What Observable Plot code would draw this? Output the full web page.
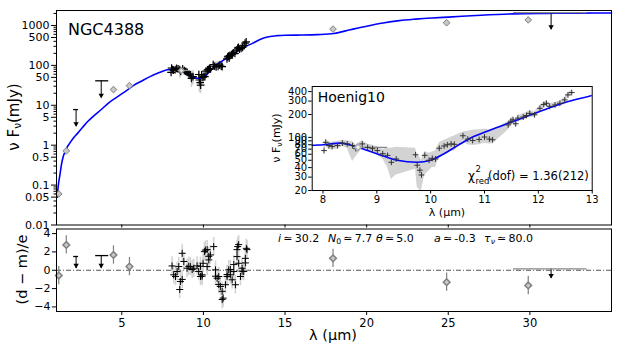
<!DOCTYPE html>
<html><head><meta charset="utf-8">
<script src="https://cdn.jsdelivr.net/npm/d3@7"></script>
<script src="https://cdn.jsdelivr.net/npm/@observablehq/plot@0.6"></script>
<style>
body{margin:0;background:#fff;}
#wrap{position:relative;width:623px;height:346px;font-family:"DejaVu Sans";}
#wrap svg{position:absolute;overflow:visible;}
</style></head><body><div id="wrap"></div>
<script>
// ---- model SED (blue line) ----
const modelL = [1.05,1.1,1.15,1.2,1.3,1.4,1.5,1.65,1.8,2.0,2.27,2.6,2.88,3.3,3.69,4.2,4.7,5.2,5.73,6.2,6.76,7.3,7.78,8.0,8.33,8.64,9.0,9.38,9.75,10.0,10.25,10.5,10.75,11.12,11.49,11.99,12.48,13.0,13.5,14.0,14.5,15.0,16.0,17.0,18.0,19.0,20.0,21.0,22.0,23.0,24.0,25.0,27.0,29.0,31.0,33.0,35.0];
const modelF = [0.05,0.09,0.13,0.17,0.32,0.5,0.65,0.9,1.1,1.45,1.95,2.8,3.8,5.5,7.5,11.5,16,22,31.6,40,53,66,78,80,84,74,61,50,47,50,61,78,99,126,158,214,285,356,450,520,555,570,575,590,630,780,960,1150,1320,1440,1540,1620,1800,1950,2010,2040,2050];
// ---- spectrum (Hoenig10) ----
const specL = [8.02,8.05,8.11,8.17,8.27,8.36,8.45,8.55,8.61,8.73,8.83,8.92,9.01,9.11,9.20,9.27,9.36,9.72,9.75,9.80,9.83,9.89,9.97,10.03,10.09,10.16,10.25,10.31,10.38,10.44,10.60,10.69,10.78,10.90,11.00,11.09,11.15,11.44,11.49,11.53,11.58,11.62,11.72,11.78,11.84,11.93,12.03,12.10,12.15,12.21,12.31,12.40,12.49,12.55,12.62];
const specF = [67,86,78,76,78,84,82,78,71,82,74,71,67,61,58,47,52,59,43,37,32,58,50,53,52,72,77,80,82,81,105,95,91,94,101,95,93,146,163,170,151,179,185,194,207,198,241,270,281,256,267,281,311,362,389];
const specLo = [58,75,70,68,70,76,72,48,55,72,66,63,58,52,40,28,32,38,22,20,20,32,36,40,40,55,60,64,66,66,88,80,78,80,84,82,82,125,140,150,135,160,168,175,188,182,222,250,258,238,248,260,288,335,360];
const specHi = [78,95,88,86,88,92,90,88,80,90,82,79,75,70,72,72,74,72,60,55,50,65,62,64,66,85,92,95,100,104,118,120,124,126,128,126,125,162,178,188,170,196,204,212,226,216,262,290,302,276,288,302,335,390,415];
// ---- spectrum residuals ----
const resL = [8.08,8.18,8.29,8.39,8.49,8.55,8.59,8.70,8.80,9.00,9.20,9.41,9.61,9.71,9.82,9.92,9.98,10.06,10.12,10.23,10.33,10.43,10.63,10.74,10.84,10.94,11.04,11.15,11.21,11.35,11.45,11.55,11.65,11.76,11.86,11.96,12.06,12.10,12.16,12.27,12.37,12.47,12.57,12.63,8.70,9.10,9.31,9.82,9.92,10.23,10.33,10.74,10.94,11.15,11.45,11.65,11.86,12.06,12.16,12.37,12.57,12.67];
const resV = [0.47,-0.5,-0.68,-0.14,0.4,-2.1,-1.23,1.85,0.95,0.22,0.4,0.22,0.48,-0.14,-0.68,-0.5,0.76,2.03,2.2,0.4,1.13,1.67,2.58,0.04,-0.87,-0.68,-1.77,-2.3,-3.04,-1.58,-0.68,0.04,-0.5,-1.04,-0.14,-1.58,1.49,2.58,0.76,-0.68,0.22,-0.14,1.3,2.39,-1.0,0.43,0.08,0.43,-0.65,2.25,1.52,-0.65,-1.55,-3.2,-0.47,0.08,0.62,2.25,2.8,-0.1,0.8,2.25];
// ---- photometry ----
const photL = [1.14,1.6,4.49,5.47,17.94,24.9,29.9];
const photF = [0.06,0.72,24.7,31,810,1170,1380];
const photR = [-0.58,2.76,1.67,0.4,1.3,-1.3,-1.66];
const nbandL = [8.65], nbandF = [74], nbandX1 = [8.6], nbandX2 = [9.2];
// ---- upper limits ----
const ulL = [2.2,3.74,31.3];
const ulTop = [7.8,41,2100];
const ulTip = [2.9,15,780];
const ulX1 = [2.05,3.4,29.0];
const ulX2 = [2.35,4.2,33.5];
const ulBarColor = ["black","black","#888"];
const ulResTop = [1.5,1.6,0.15];
const ulResTip = [0.2,0.2,-0.9];
// ---- ticks ----
const xTicks = [5,10,15,20,25,30];
const yTopMajor = [0.01,0.05,0.1,0.5,1,5,10,50,100,500,1000];
const yTopLabels = ["0.01","0.05","0.1","0.5","1","5","10","50","100","500","1000"];
const yTopMinor = [0.02,0.03,0.04,0.06,0.07,0.08,0.09,0.2,0.3,0.4,0.6,0.7,0.8,0.9,2,3,4,6,7,8,9,20,30,40,60,70,80,90,200,300,400,600,700,800,900,2000];
const yBotTicks = [-4,-2,0,2,4];
const yBotLabels = ["\u22124","\u22122","0","2","4"];
const xInsetTicks = [8,9,10,11,12,13];
const yInsetTicks = [20,30,40,50,60,70,80,90,100,200,300,400];
const yInsetLabels = ["20","30","40","50","60","70","80","90","100","200","300","400"];

const model = modelL.map((l,i)=>({l, f:modelF[i]}));
const spec = specL.map((l,i)=>({l, f:specF[i], lo:specLo[i], hi:specHi[i]}));
const res = resL.map((l,i)=>({l, v:resV[i]}));
const phot = photL.map((l,i)=>({l, f:photF[i], r:photR[i]}));
const nband = nbandL.map((l,i)=>({l, f:nbandF[i], x1:nbandX1[i], x2:nbandX2[i]}));
const ul = ulL.map((l,i)=>({l, top:ulTop[i], tip:ulTip[i], x1:ulX1[i], x2:ulX2[i], c:ulBarColor[i], rt:ulResTop[i], rtip:ulResTip[i]}));
const topLab = new Map(yTopMajor.map((d,i)=>[d, yTopLabels[i]]));
const botLab = new Map(yBotTicks.map((d,i)=>[d, yBotLabels[i]]));
const insLab = new Map(yInsetTicks.map((d,i)=>[d, yInsetLabels[i]]));

const FONT = "DejaVu Sans";
const baseStyle = {fontFamily: FONT, fontSize: "11px", background: "transparent", color: "black", overflow: "visible"};
const BLUE = "#0000ff";

const topPlot = Plot.plot({
  width: 623, height: 228,
  marginLeft: 56, marginRight: 12, marginTop: 10, marginBottom: 3.5,
  x: {domain: [1, 35]},
  y: {type: "log", domain: [0.01, 2370]},
  style: baseStyle,
  marks: [
    Plot.ruleX(spec, {x: "l", y1: "lo", y2: "hi", stroke: "#cccccc", strokeWidth: 1.5}),
    Plot.line(model, {x: "l", y: "f", stroke: BLUE, strokeWidth: 1.6, curve: "monotone-x"}),
    Plot.dot(spec, {x: "l", y: "f", symbol: "plus", r: 2.6, stroke: "black", strokeWidth: 1.2}),
    Plot.ruleY(nband, {y: "f", x1: "x1", x2: "x2", stroke: "#999"}),
    Plot.dot(nband, {x: "l", y: "f", symbol: "diamond2", r: 2.6, fill: "#e6e6e6", stroke: "#999"}),
    Plot.ruleY([{y:0.06, x1:1.14, x2:1.35}], {y: "y", x1: "x1", x2: "x2", stroke: "#888"}),
    Plot.dot(phot, {x: "l", y: "f", symbol: "diamond2", r: 3, fill: "#c8c8c8", stroke: "#808080", strokeWidth: 1}),
    Plot.ruleX(ul, {x: "l", y1: "tip", y2: "top", stroke: "black", strokeWidth: 1}),
    Plot.ruleY(ul, {y: "top", x1: "x1", x2: "x2", stroke: "c", strokeWidth: 1.3}),
    Plot.dot(ul, {x: "l", y: "tip", symbol: "triangle", rotate: 180, r: 2, fill: "black", dy: -3}),
    Plot.axisY(yTopMinor, {tickSize: 2.5, text: () => "", label: null}),
    Plot.axisY(yTopMajor, {tickSize: 5, tickPadding: 2, text: d => topLab.get(d), label: null}),
    Plot.axisX(xTicks, {tickSize: 3, text: () => "", label: null}),
    Plot.frame({stroke: "black"})
  ]
});

const botPlot = Plot.plot({
  width: 623, height: 118,
  marginLeft: 56, marginRight: 12, marginTop: 0.5, marginBottom: 35,
  x: {domain: [1, 35]},
  y: {domain: [-4.5, 4.5]},
  style: baseStyle,
  marks: [
    Plot.ruleY([0], {stroke: "#555", strokeWidth: 1, strokeDasharray: "5,2,1,2"}),
    Plot.ruleX(res, {x: "l", y1: d => d.v - 1, y2: d => d.v + 1, stroke: "#d4d4d4", strokeWidth: 1.6}),
    Plot.dot(res, {x: "l", y: "v", symbol: "plus", r: 2.4, stroke: "black", strokeWidth: 1}),
    Plot.ruleX(phot, {x: "l", y1: d => d.r - 1, y2: d => d.r + 1, stroke: "#808080", strokeWidth: 1.2}),
    Plot.dot(phot, {x: "l", y: "r", symbol: "diamond2", r: 3, fill: "#c8c8c8", stroke: "#808080"}),
    Plot.ruleX(ul, {x: "l", y1: "rtip", y2: "rt", stroke: "black"}),
    Plot.ruleY(ul, {y: "rt", x1: "x1", x2: "x2", stroke: "c", strokeWidth: 1.3}),
    Plot.dot(ul, {x: "l", y: "rtip", symbol: "triangle", rotate: 180, r: 2, fill: "black", dy: -3}),
    Plot.axisY(yBotTicks, {tickSize: 4, tickPadding: 2, text: d => botLab.get(d), label: null}),
    Plot.axisX(xTicks, {tickSize: 4, tickPadding: 3, text: d => String(d), label: null, fontSize: 11.5}),
    Plot.frame({stroke: "black"})
  ]
});

const insetPlot = Plot.plot({
  width: 335, height: 142,
  marginLeft: 49.7, marginRight: 5.3, marginTop: 6, marginBottom: 32,
  x: {domain: [7.8, 13]},
  y: {type: "log", domain: [20, 467]},
  style: {...baseStyle, fontSize: "10px", background: "white"},
  marks: [
    Plot.areaY(spec, {x: "l", y1: "lo", y2: "hi", fill: "#d3d3d3", clip: true}),
    Plot.line(model, {x: "l", y: "f", stroke: BLUE, strokeWidth: 1.6, curve: "monotone-x", clip: true}),
    Plot.ruleY(nband, {y: "f", x1: "x1", x2: "x2", stroke: "#888", strokeWidth: 1.2}),
    Plot.dot(spec, {x: "l", y: "f", symbol: "plus", r: 2, stroke: "#333", strokeWidth: 1}),
    Plot.dot(nband, {x: "l", y: "f", symbol: "diamond2", r: 3, fill: "#eeeeee", stroke: "#aaa"}),
    Plot.axisY(yInsetTicks, {tickSize: 3.5, tickPadding: 1.5, text: d => insLab.get(d), label: null}),
    Plot.axisX(xInsetTicks, {tickSize: 3.5, tickPadding: 2, text: d => String(d), label: null}),
    Plot.frame({stroke: "black"})
  ]
});

const wrap = document.getElementById("wrap");
function place(svg, left, top){ svg.style.left = left + "px"; svg.style.top = top + "px"; wrap.appendChild(svg); }
place(topPlot, 0, 0);
place(insetPlot, 262, 80);
place(botPlot, 0, 228);

function txt(svg, x, y, size, parts, opts = {}) {
  const t = d3.select(svg).append("text")
    .attr("font-family", FONT).attr("font-size", size).attr("fill", "black")
    .attr("text-anchor", opts.anchor || "start");
  if (opts.rotate) t.attr("transform", `translate(${x},${y}) rotate(-90)`);
  else t.attr("x", x).attr("y", y);
  if (opts.baseline) t.attr("dominant-baseline", opts.baseline);
  for (const p of parts) {
    const s = t.append("tspan").text(p.t);
    if (p.italic) s.attr("font-style", "italic");
    if (p.sub) s.attr("font-size", size * 0.7).attr("dy", size * 0.25);
    if (p.back) s.attr("dy", -size * 0.25);
  }
  return t;
}
const fnuParts = [{t: "\u03bd F"}, {t: "\u03bd", sub: true}, {t: "(mJy)", back: true}];
txt(topPlot, 14, 117, 15, fnuParts, {rotate: true, anchor: "middle", baseline: "middle"});
txt(topPlot, 68, 35, 16, [{t: "NGC4388"}]);
txt(botPlot, 23, 41.5, 14.5, [{t: "(d \u2212 m)/e"}], {rotate: true, anchor: "middle", baseline: "middle"});
txt(botPlot, 333, 112, 14.5, [{t: "\u03bb (\u00b5m)"}], {anchor: "middle"});
// fit parameters
const py = 13.5, ps = 11, th = "\u2009";
txt(botPlot, 278, py, ps, [{t: "i", italic: true}, {t: th + "\u2243" + th + "30.2"}]);
txt(botPlot, 328, py, ps, [{t: "N", italic: true}, {t: "0", sub: true}, {t: th + "\u2243" + th + "7.7", back: true}]);
txt(botPlot, 376, py, ps, [{t: "\u03b8", italic: true}, {t: th + "\u2243" + th + "5.0"}]);
txt(botPlot, 434, py, ps, [{t: "a", italic: true}, {t: th + "\u2243" + th + "-0.3"}]);
txt(botPlot, 484, py, ps, [{t: "\u03c4", italic: true}, {t: "\u03bd", sub: true, italic: true}, {t: th + "\u2243" + th + "80.0", back: true}]);
// inset texts
txt(insetPlot, 55.7, 21.5, 14, [{t: "Hoenig10"}]);
txt(insetPlot, 15, 58, 11, fnuParts, {rotate: true, anchor: "middle", baseline: "middle"});
txt(insetPlot, 185, 136, 11, [{t: "\u03bb (\u00b5m)"}], {anchor: "middle"});
txt(insetPlot, 206, 100, 12, [{t: "\u03c7"}]);
txt(insetPlot, 213.5, 92, 8.5, [{t: "2"}]);
txt(insetPlot, 213.5, 103.5, 8.5, [{t: "red"}]);
txt(insetPlot, 226, 100, 11.5, [{t: "(dof) = 1.36(212)"}]);
</script></body></html>
